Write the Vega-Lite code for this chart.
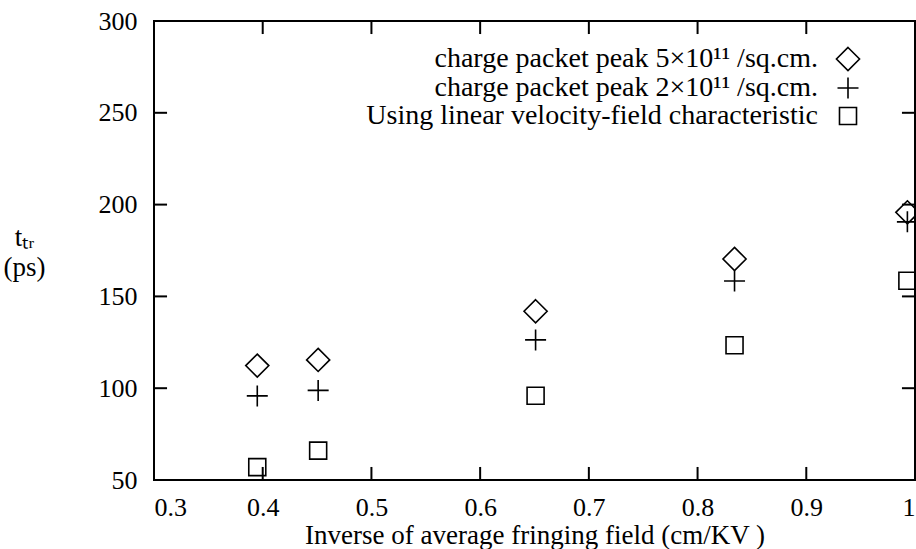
{
  "$schema": "https://vega.github.io/schema/vega-lite/v6.json",
  "width": 761,
  "height": 459,
  "autosize": {"type": "none"},
  "padding": {"left": 154, "top": 21, "right": 1, "bottom": 69},
  "background": "white",
  "config": {
    "view": {"stroke": "black", "strokeWidth": 2},
    "font": "Liberation Serif",
    "axis": {
      "grid": false,
      "domain": false,
      "ticks": false,
      "labelFont": "Liberation Serif",
      "labelFontSize": 26,
      "labelColor": "black",
      "titleFont": "Liberation Serif",
      "titleFontSize": 27,
      "titleFontWeight": "normal",
      "titleColor": "black"
    }
  },
  "datasets": {
    "points": [
      {"x": 0.395, "t": 112.3, "series": "charge packet peak 5×10¹¹ /sq.cm."},
      {"x": 0.451, "t": 115.4, "series": "charge packet peak 5×10¹¹ /sq.cm."},
      {"x": 0.651, "t": 141.9, "series": "charge packet peak 5×10¹¹ /sq.cm."},
      {"x": 0.834, "t": 170.4, "series": "charge packet peak 5×10¹¹ /sq.cm."},
      {"x": 0.993, "t": 195.8, "series": "charge packet peak 5×10¹¹ /sq.cm."},
      {"x": 0.395, "t": 95.8, "series": "charge packet peak 2×10¹¹ /sq.cm."},
      {"x": 0.451, "t": 98.8, "series": "charge packet peak 2×10¹¹ /sq.cm."},
      {"x": 0.651, "t": 126.3, "series": "charge packet peak 2×10¹¹ /sq.cm."},
      {"x": 0.834, "t": 158.4, "series": "charge packet peak 2×10¹¹ /sq.cm."},
      {"x": 0.993, "t": 190.6, "series": "charge packet peak 2×10¹¹ /sq.cm."},
      {"x": 0.395, "t": 57.0, "series": "Using linear velocity-field characteristic"},
      {"x": 0.451, "t": 66.0, "series": "Using linear velocity-field characteristic"},
      {"x": 0.651, "t": 95.9, "series": "Using linear velocity-field characteristic"},
      {"x": 0.834, "t": 123.4, "series": "Using linear velocity-field characteristic"},
      {"x": 0.993, "t": 158.5, "series": "Using linear velocity-field characteristic"}
    ],
    "xticks": [
      {"x": 0.4}, {"x": 0.5}, {"x": 0.6}, {"x": 0.7}, {"x": 0.8}, {"x": 0.9}
    ],
    "yticks": [
      {"t": 100}, {"t": 150}, {"t": 200}, {"t": 250}
    ]
  },
  "layer": [
    {
      "data": {"name": "xticks"},
      "mark": {"type": "rule", "color": "black", "strokeWidth": 2},
      "encoding": {
        "x": {"field": "x", "type": "quantitative"},
        "y": {"datum": 50, "type": "quantitative"},
        "y2": {"datum": 57.1}
      }
    },
    {
      "data": {"name": "xticks"},
      "mark": {"type": "rule", "color": "black", "strokeWidth": 2},
      "encoding": {
        "x": {"field": "x", "type": "quantitative"},
        "y": {"datum": 300, "type": "quantitative"},
        "y2": {"datum": 292.9}
      }
    },
    {
      "data": {"name": "yticks"},
      "mark": {"type": "rule", "color": "black", "strokeWidth": 2},
      "encoding": {
        "y": {"field": "t", "type": "quantitative"},
        "x": {"datum": 0.3, "type": "quantitative"},
        "x2": {"datum": 0.312}
      }
    },
    {
      "data": {"name": "yticks"},
      "mark": {"type": "rule", "color": "black", "strokeWidth": 2},
      "encoding": {
        "y": {"field": "t", "type": "quantitative"},
        "x": {"datum": 1.0, "type": "quantitative"},
        "x2": {"datum": 0.988}
      }
    },
    {
      "data": {"name": "points"},
      "mark": {"type": "point", "filled": false, "strokeWidth": 1.6, "color": "black", "opacity": 1, "size": 441},
      "encoding": {
        "x": {
          "field": "x", "type": "quantitative",
          "scale": {"domain": [0.3, 1.0], "nice": false, "zero": false},
          "axis": {
            "orient": "bottom",
            "values": [0.3, 0.4, 0.5, 0.6, 0.7, 0.8, 0.9, 1.0],
            "format": "~g",
            "labelPadding": 14,
            "title": "Inverse of average fringing field (cm/KV )",
            "titlePadding": 2
          }
        },
        "y": {
          "field": "t", "type": "quantitative",
          "scale": {"domain": [50, 300], "nice": false, "zero": false},
          "axis": {
            "orient": "left",
            "values": [50, 100, 150, 200, 250, 300],
            "labelPadding": 17,
            "title": ["tₜᵣ", "(ps)"],
            "titleAngle": 0,
            "titleAlign": "center",
            "titleBaseline": "middle",
            "titleX": -130,
            "titleY": 216,
            "titleLineHeight": 30
          }
        },
        "shape": {
          "field": "series", "type": "nominal",
          "scale": {
            "domain": ["charge packet peak 5×10¹¹ /sq.cm.", "charge packet peak 2×10¹¹ /sq.cm.", "Using linear velocity-field characteristic"],
            "range": ["M0,-1.1L1.1,0L0,1.1L-1.1,0Z", "M-1,0H1M0,-1V1", "M-0.81,-0.81H0.81V0.81H-0.81Z"]
          },
          "legend": {
            "orient": "none",
            "legendX": 680,
            "legendY": 24,
            "title": null,
            "labelAlign": "right",
            "labelOffset": -44,
            "labelLimit": 2000,
            "labelFont": "Liberation Serif",
            "labelFontSize": 28,
            "labelColor": "black",
            "rowPadding": 0,
            "symbolSize": 441,
            "symbolStrokeColor": "black",
            "symbolStrokeWidth": 1.6,
            "symbolFillColor": "transparent"
          }
        }
      }
    }
  ]
}
